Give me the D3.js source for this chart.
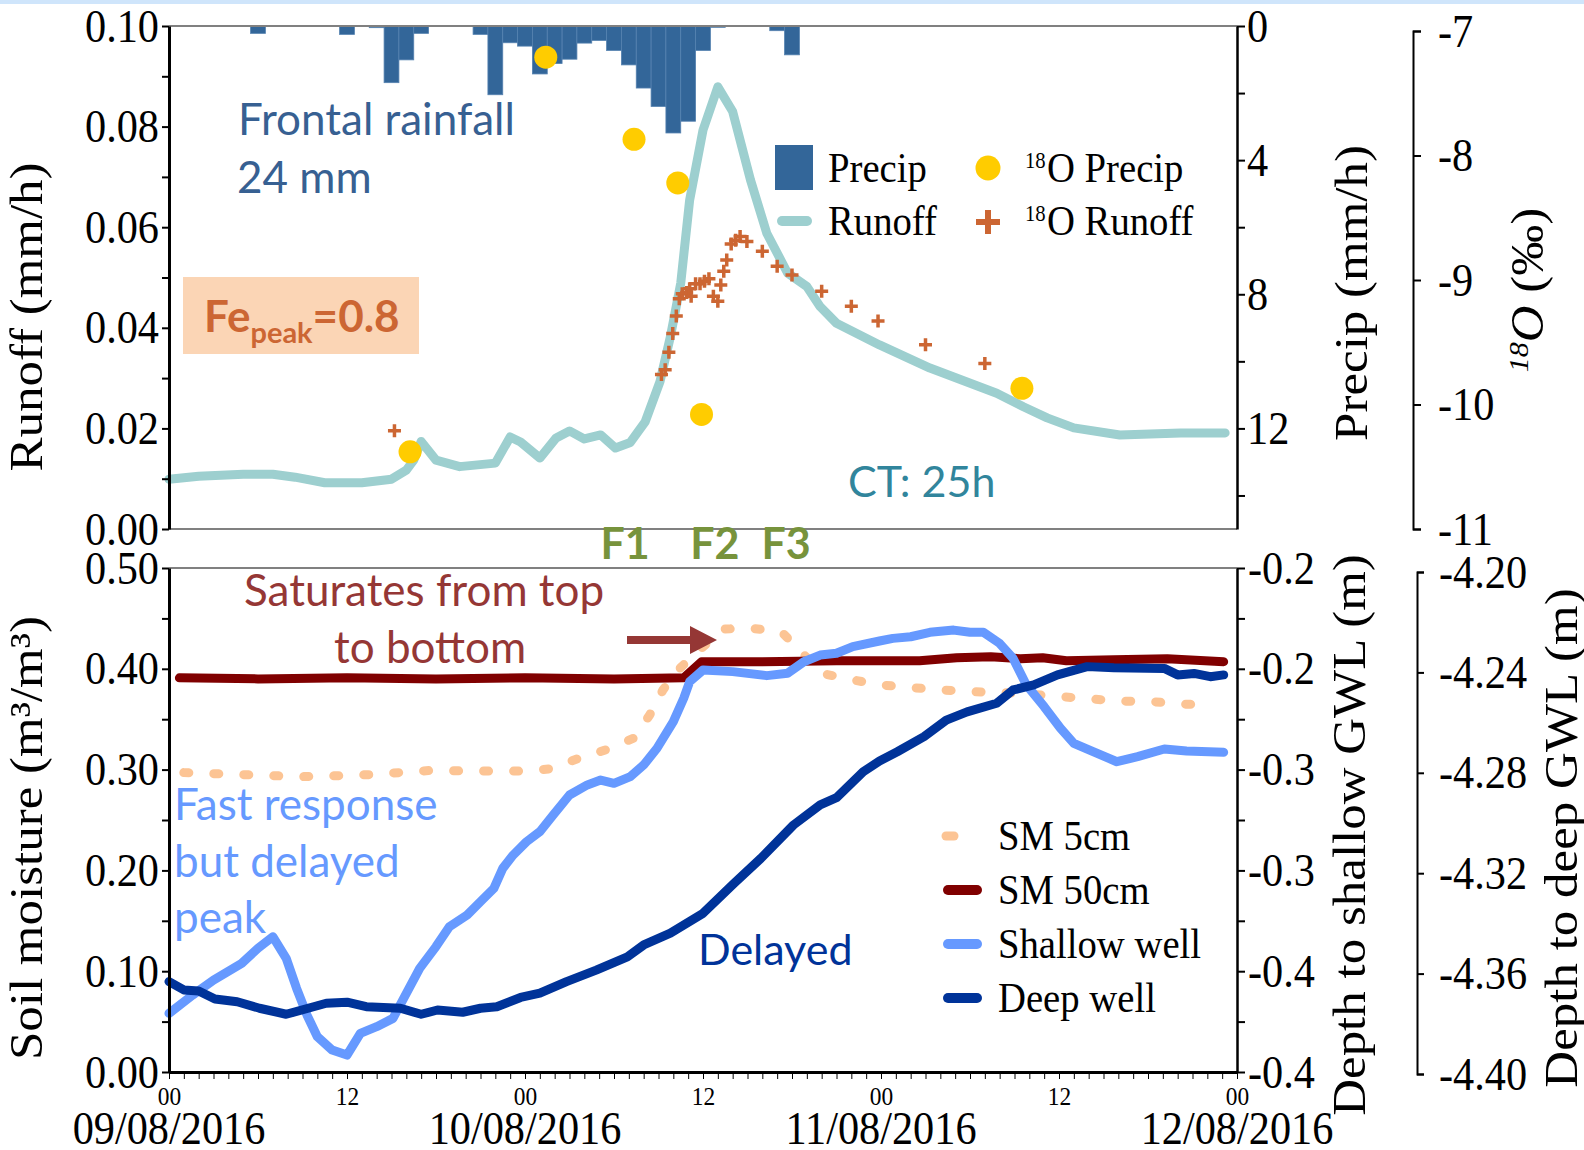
<!DOCTYPE html>
<html>
<head>
<meta charset="utf-8">
<script src="https://cdn.jsdelivr.net/npm/d3@7"></script>
<style>
  body { margin: 0; background: #fff; }
  svg { display: block; }
</style>
</head>
<body>
<div id="chart"></div>
<script>
// ---------- data (hours since 09/08/2016 00:00) ----------
const precipHours = [6, 12, 14, 15, 16, 17, 21, 22, 23, 24, 25, 26, 27, 28, 29, 30, 31, 32, 33, 34, 35, 36, 37, 41, 42];
const precipValues = [0.22, 0.25, 0.05, 1.69, 1.01, 0.22, 0.25, 2.05, 0.50, 0.60, 1.43, 1.12, 0.99, 0.51, 0.43, 0.73, 1.16, 1.85, 2.40, 3.19, 2.84, 0.73, 0.04, 0.14, 0.86];

const runoffHours = [0, 2, 5, 7, 8.5, 10.5, 13, 15, 16, 16.5, 17, 18, 19.6, 22, 23, 23.7, 25, 26.1, 27, 28, 29.1, 30.1, 31.1, 32.1, 33.1, 33.8, 34.5, 35.1, 36, 37, 38, 39.2, 40.3, 41.7, 43, 43.9, 45, 47.9, 51.3, 55.8, 57.6, 59.2, 61, 64.1, 68.2, 71.2];
const runoffValues = [0.0099, 0.0105, 0.0109, 0.0109, 0.0103, 0.0092, 0.0092, 0.0099, 0.0117, 0.0137, 0.0174, 0.0137, 0.0124, 0.0131, 0.0183, 0.0173, 0.0141, 0.0181, 0.0195, 0.0179, 0.0187, 0.0161, 0.0172, 0.0213, 0.0293, 0.0382, 0.0489, 0.0654, 0.0793, 0.0879, 0.0830, 0.0694, 0.0588, 0.0509, 0.0482, 0.0442, 0.0409, 0.0366, 0.0320, 0.0270, 0.0243, 0.0221, 0.0201, 0.0187, 0.0191, 0.0191];

const o18PrecipHours = [16.25, 25.4, 31.35, 34.3, 35.9, 57.5];
const o18PrecipValues = [-10.38, -7.21, -7.87, -8.22, -10.08, -9.87];

const o18RunoffHours = [15.2, 33.2, 33.45, 33.7, 33.96, 34.2, 34.4, 34.6, 34.9, 35.1, 35.2, 35.5, 35.8, 36.1, 36.4, 36.7, 37.0, 37.2, 37.4, 37.6, 37.9, 38.2, 38.5, 38.96, 40.0, 41.0, 42.0, 44.0, 46.0, 47.8, 51.0, 55.0];
const o18RunoffValues = [-10.21, -9.76, -9.72, -9.58, -9.43, -9.29, -9.15, -9.11, -9.10, -9.07, -9.13, -9.03, -9.03, -9.01, -8.99, -9.13, -9.17, -9.04, -8.93, -8.84, -8.71, -8.68, -8.65, -8.69, -8.77, -8.89, -8.96, -9.09, -9.21, -9.33, -9.52, -9.67];

const sm5Hours = [1, 5, 9, 11.5, 13.5, 15.5, 17.5, 21.5, 24, 25.6, 27.5, 29.4, 31.3, 32.4, 33.3, 34.2, 35.4, 36.4, 37.4, 39.4, 41.3, 42.6, 44, 46.1, 48, 50.1, 52.1, 54.1, 56, 58.1, 60.2, 62.2, 64.2, 66.3, 68.3, 70.5];
const sm5Values = [0.297, 0.295, 0.293, 0.294, 0.295, 0.297, 0.299, 0.2985, 0.2985, 0.3006, 0.3105, 0.3194, 0.331, 0.354, 0.379, 0.397, 0.414, 0.427, 0.4395, 0.440, 0.4365, 0.417, 0.3955, 0.389, 0.384, 0.3813, 0.379, 0.3773, 0.3767, 0.3747, 0.3723, 0.370, 0.368, 0.3674, 0.365, 0.364];

const sm50Hours = [0.7, 6, 12, 18, 24, 30, 34.7, 35.9, 40, 45, 50.6, 53.1, 55.4, 57.4, 58.9, 60.5, 63.7, 67.3, 71.1];
const sm50Values = [0.391, 0.390, 0.391, 0.390, 0.391, 0.390, 0.391, 0.407, 0.407, 0.408, 0.408, 0.411, 0.412, 0.410, 0.411, 0.408, 0.409, 0.410, 0.407];

const shallowHours = [0, 1.6, 3.0, 4.9, 6.0, 7.0, 7.9, 8.6, 9.3, 10.0, 11.0, 12.0, 12.9, 14.0, 15.1, 16.0, 16.9, 18.0, 18.9, 20.1, 21.0, 21.9, 22.5, 23.2, 24.1, 25.0, 25.9, 27.0, 28.2, 29.1, 30.0, 31.1, 32.0, 32.9, 34.0, 34.7, 35.1, 36.0, 38.0, 40.3, 41.7, 42.8, 43.9, 45.0, 46.1, 47.9, 48.8, 50.0, 51.3, 52.9, 54.0, 54.9, 56.0, 56.9, 57.8, 59.0, 60.1, 61.0, 62.3, 63.9, 65.3, 67.1, 68.6, 71.1];
const shallowValues = [-0.3709, -0.3618, -0.3544, -0.3461, -0.3386, -0.3329, -0.3436, -0.3585, -0.3717, -0.3825, -0.3891, -0.3916, -0.3808, -0.3775, -0.3734, -0.3610, -0.3486, -0.3378, -0.3279, -0.3221, -0.3155, -0.3089, -0.2990, -0.2924, -0.2858, -0.2808, -0.2725, -0.2626, -0.2576, -0.2552, -0.2568, -0.2535, -0.2477, -0.2394, -0.2262, -0.2146, -0.2064, -0.2006, -0.2014, -0.2034, -0.2022, -0.1965, -0.1932, -0.1923, -0.1890, -0.1862, -0.1849, -0.1841, -0.1819, -0.1808, -0.1819, -0.1819, -0.1874, -0.1948, -0.2080, -0.2188, -0.2295, -0.2370, -0.2411, -0.2461, -0.2436, -0.2398, -0.2408, -0.2414];

const deepHours = [0, 1.0, 2.0, 3.1, 4.6, 6.1, 7.9, 9.5, 10.6, 12.0, 13.3, 15.6, 17.0, 18.1, 19.8, 21.0, 22.1, 23.7, 25.0, 26.8, 28.8, 30.9, 32.0, 33.8, 36.0, 38.1, 39.9, 42.1, 43.9, 45.0, 46.8, 47.9, 49.1, 50.9, 52.4, 53.8, 55.8, 56.9, 58.3, 59.9, 61.9, 63.7, 67.1, 68.0, 69.1, 70.2, 71.1];
const deepValues = [-4.3632, -4.3665, -4.3669, -4.3701, -4.3712, -4.3738, -4.3762, -4.3736, -4.3718, -4.3714, -4.3732, -4.3738, -4.3762, -4.3745, -4.3754, -4.3738, -4.3732, -4.3695, -4.3678, -4.3632, -4.3586, -4.3533, -4.3486, -4.3439, -4.3360, -4.3240, -4.3141, -4.3008, -4.2928, -4.2899, -4.2796, -4.2753, -4.2716, -4.2656, -4.2590, -4.2557, -4.2523, -4.2470, -4.2450, -4.2410, -4.2377, -4.2381, -4.2384, -4.2410, -4.2404, -4.2417, -4.2410];

// ticks and labels
const runoffTicks = [0, 0.01, 0.02, 0.03, 0.04, 0.05, 0.06, 0.07, 0.08, 0.09, 0.10];
const precipTicks = [0, 2, 4, 6, 8, 10, 12, 14];
const o18Ticks = [-11, -10, -9, -8, -7];
const smTicks = [0, 0.05, 0.10, 0.15, 0.20, 0.25, 0.30, 0.35, 0.40, 0.45, 0.50];
const shallowTicks = [-0.40, -0.375, -0.35, -0.325, -0.30, -0.275, -0.25, -0.225, -0.20, -0.175, -0.15];
const shallowTickLabels = ["-0.4", "-0.4", "-0.3", "-0.3", "-0.2", "-0.2"];
const deepTicks = [-4.40, -4.36, -4.32, -4.28, -4.24, -4.20];
const hourLabels = ["00", "12", "00", "12", "00", "12", "00"];
const dateLabels = ["09/08/2016", "10/08/2016", "11/08/2016", "12/08/2016"];

// ---------- layout ----------
const W = 1584, H = 1150;
const X0 = 169, X1 = 1237;
const topY0 = 26, topY1 = 529;
const botY0 = 568, botY1 = 1072;
const SX = 0.9; // chart text in the figure is squeezed horizontally
const SERIF = "'Liberation Serif', 'Times New Roman', serif";
const SANS = "Lato, Carlito, Calibri, sans-serif";

const x = d3.scaleLinear().domain([0, 72]).range([X0, X1]);
const yRun = d3.scaleLinear().domain([0, 0.1]).range([topY1, topY0]);
const yPrecip = d3.scaleLinear().domain([0, 15]).range([topY0, topY1]);
const yO18 = d3.scaleLinear().domain([-11, -7]).range([529, 31]);
const ySM = d3.scaleLinear().domain([0, 0.5]).range([botY1, botY0]);
const yShallow = d3.scaleLinear().domain([-0.40, -0.15]).range([botY1, botY0]);
const yDeep = d3.scaleLinear().domain([-4.40, -4.20]).range([1074, 572]);

const hyphen = f => d => f(d).replace("\u2212", "-");

const svg = d3.select("#chart").append("svg")
  .attr("width", W).attr("height", H)
  .attr("viewBox", [0, 0, W, H]);

svg.append("rect").attr("width", W).attr("height", H).attr("fill", "#fff");
svg.append("rect").attr("width", W).attr("height", 4).attr("fill", "#cfe5fb");

// squeezed serif text helper
function sText(g, px, py, str, size, anchor) {
  return g.append("text")
    .attr("transform", `translate(${px},${py}) scale(${SX},1)`)
    .attr("font-family", SERIF).attr("font-size", size)
    .attr("text-anchor", anchor || "start").attr("fill", "#000")
    .text(str);
}
function vTitle(g, px, py, size) {
  return g.append("text")
    .attr("transform", `translate(${px},${py}) scale(${SX},1) rotate(-90)`)
    .attr("font-family", SERIF).attr("font-size", size)
    .attr("text-anchor", "middle").attr("fill", "#000");
}
function styleAxis(g, domainWidth, fontSize) {
  g.attr("font-size", null).attr("font-family", null);
  g.select(".domain").attr("stroke", "#000").attr("stroke-width", domainWidth);
  g.selectAll(".tick line").attr("stroke", "#000").attr("stroke-width", 2);
  g.selectAll(".tick text")
    .attr("fill", "#000").attr("font-size", fontSize).attr("font-family", SERIF)
    .each(function () {
      const t = d3.select(this);
      const tx = +t.attr("x") || 0, ty = +t.attr("y") || 0;
      t.attr("x", null).attr("y", null)
        .attr("transform", `translate(${tx},${ty}) scale(${SX},1)`);
    });
}

// ================= TOP PANEL =================
const topG = svg.append("g");

// precipitation bars hanging from the top
topG.append("g").selectAll("rect")
  .data(precipHours.map((h, i) => ({ h, v: precipValues[i] })))
  .join("rect")
  .attr("x", d => x(d.h - 0.5))
  .attr("width", d => x(d.h + 0.5) - x(d.h - 0.5))
  .attr("y", yPrecip(0))
  .attr("height", d => yPrecip(d.v) - yPrecip(0))
  .attr("fill", "#336699")
  .attr("stroke", "#5582b0").attr("stroke-width", 0.8);

// runoff
const runoffLine = d3.line().x(d => x(d[0])).y(d => yRun(d[1]));
topG.append("path")
  .datum(d3.zip(runoffHours, runoffValues))
  .attr("d", runoffLine)
  .attr("fill", "none").attr("stroke", "#9dcfcf").attr("stroke-width", 9)
  .attr("stroke-linejoin", "round").attr("stroke-linecap", "round");

// 18O runoff (+)
topG.append("g").selectAll("path")
  .data(d3.zip(o18RunoffHours, o18RunoffValues))
  .join("path")
  .attr("transform", d => `translate(${x(d[0])},${yO18(d[1])})`)
  .attr("d", "M-6.5,0H6.5M0,-6.5V6.5")
  .attr("stroke", "#cc6633").attr("stroke-width", 3.5);

// 18O precip dots
topG.append("g").selectAll("circle")
  .data(d3.zip(o18PrecipHours, o18PrecipValues))
  .join("circle")
  .attr("cx", d => x(d[0])).attr("cy", d => yO18(d[1]))
  .attr("r", 11.5).attr("fill", "#ffcc00");

// frame lines
topG.append("line").attr("x1", X0).attr("x2", X1).attr("y1", topY0).attr("y2", topY0)
  .attr("stroke", "#808080").attr("stroke-width", 2);
topG.append("line").attr("x1", X0).attr("x2", X1).attr("y1", topY1).attr("y2", topY1)
  .attr("stroke", "#808080").attr("stroke-width", 2);

// axes
const axRun = topG.append("g").attr("transform", `translate(${X0},0)`)
  .call(d3.axisLeft(yRun).tickValues(runoffTicks).tickSize(7).tickSizeOuter(0).tickPadding(3)
    .tickFormat((d, i) => i % 2 ? "" : d3.format(".2f")(d)));
styleAxis(axRun, 3, 47);

const axPrecip = topG.append("g").attr("transform", `translate(${X1},0)`)
  .call(d3.axisRight(yPrecip).tickValues(precipTicks).tickSize(8).tickSizeOuter(0).tickPadding(2)
    .tickFormat(d => d % 4 === 0 ? d : ""));
styleAxis(axPrecip, 2.5, 47);

const axO18 = topG.append("g").attr("transform", "translate(1413,0)")
  .call(d3.axisRight(yO18).tickValues(o18Ticks).tickSize(8).tickSizeOuter(8).tickPadding(17)
    .tickFormat(hyphen(d3.format("d"))));
styleAxis(axO18, 2, 47);

vTitle(topG, 42, 317, 51).text("Runoff (mm/h)");
vTitle(topG, 1367, 293, 51).text("Precip (mm/h)");
const o18Title = vTitle(topG, 1543, 290, 51);
o18Title.append("tspan").attr("font-style", "italic").attr("font-size", 30).attr("dy", -17).text("18");
o18Title.append("tspan").attr("font-style", "italic").attr("dy", 17).text("O");
o18Title.append("tspan").text(" (‰)");

// legend (top)
const lg1 = topG.append("g");
lg1.append("rect").attr("x", 775).attr("y", 145).attr("width", 38).attr("height", 45).attr("fill", "#336699");
sText(lg1, 828, 182, "Precip", 43);
lg1.append("line").attr("x1", 782).attr("x2", 807).attr("y1", 221).attr("y2", 221)
  .attr("stroke", "#9dcfcf").attr("stroke-width", 10).attr("stroke-linecap", "round");
sText(lg1, 828, 235, "Runoff", 43);
lg1.append("circle").attr("cx", 988).attr("cy", 168).attr("r", 12.5).attr("fill", "#ffcc00");
sText(lg1, 1025, 168, "18", 23);
sText(lg1, 1047, 182, "O Precip", 43);
lg1.append("path").attr("transform", "translate(988,222)")
  .attr("d", "M-12,0H12M0,-12V12").attr("stroke", "#cc6633").attr("stroke-width", 6);
sText(lg1, 1025, 221, "18", 23);
sText(lg1, 1047, 235, "O Runoff", 43);

// annotations (top)
const note = (g, px, py, str, col, size) => g.append("text").attr("x", px).attr("y", py)
  .attr("font-family", SANS).attr("font-size", size || 44).attr("fill", col).text(str);
note(topG, 238, 135, "Frontal rainfall", "#376092");
note(topG, 237, 193, "24 mm", "#376092");
topG.append("rect").attr("x", 183).attr("y", 277).attr("width", 236).attr("height", 77).attr("fill", "#fbd5b5");
const fe = topG.append("text").attr("x", 204).attr("y", 332).attr("font-family", SANS)
  .attr("font-weight", "bold").attr("font-size", 44).attr("fill", "#cc6633");
fe.append("tspan").text("Fe");
fe.append("tspan").attr("font-size", 29).attr("dy", 11).text("peak");
fe.append("tspan").attr("dy", -11).text("=0.8");
note(topG, 848, 497, "CT: 25h", "#31859c", 43);

const fLabels = [["F1", 30.75], ["F2", 36.8], ["F3", 41.6]];
topG.append("g").selectAll("text").data(fLabels).join("text")
  .attr("x", d => x(d[1])).attr("y", 559).attr("text-anchor", "middle")
  .attr("font-family", SANS).attr("font-weight", "bold").attr("font-size", 43)
  .attr("fill", "#77933c").text(d => d[0]);

// ================= BOTTOM PANEL =================
const botG = svg.append("g");

const smLine = d3.line().x(d => x(d[0])).y(d => ySM(d[1]));
botG.append("path").datum(d3.zip(sm5Hours, sm5Values)).attr("d", smLine)
  .attr("fill", "none").attr("stroke", "#fcc494").attr("stroke-width", 9)
  .attr("stroke-linecap", "round").attr("stroke-dasharray", "5 25");
botG.append("path").datum(d3.zip(sm50Hours, sm50Values)).attr("d", smLine)
  .attr("fill", "none").attr("stroke", "#800000").attr("stroke-width", 9)
  .attr("stroke-linecap", "round").attr("stroke-linejoin", "round");
botG.append("path").datum(d3.zip(shallowHours, shallowValues))
  .attr("d", d3.line().x(d => x(d[0])).y(d => yShallow(d[1])))
  .attr("fill", "none").attr("stroke", "#6699ff").attr("stroke-width", 9)
  .attr("stroke-linecap", "round").attr("stroke-linejoin", "round");
botG.append("path").datum(d3.zip(deepHours, deepValues))
  .attr("d", d3.line().x(d => x(d[0])).y(d => yDeep(d[1])))
  .attr("fill", "none").attr("stroke", "#003399").attr("stroke-width", 9)
  .attr("stroke-linecap", "round").attr("stroke-linejoin", "round");

botG.append("line").attr("x1", X0).attr("x2", X1).attr("y1", botY0).attr("y2", botY0)
  .attr("stroke", "#808080").attr("stroke-width", 2);

const axSM = botG.append("g").attr("transform", `translate(${X0},0)`)
  .call(d3.axisLeft(ySM).tickValues(smTicks).tickSize(7).tickSizeOuter(0).tickPadding(3)
    .tickFormat((d, i) => i % 2 ? "" : d3.format(".2f")(d)));
styleAxis(axSM, 3, 47);

const axShallow = botG.append("g").attr("transform", `translate(${X1},0)`)
  .call(d3.axisRight(yShallow).tickValues(shallowTicks).tickSize(8).tickSizeOuter(0).tickPadding(3)
    .tickFormat((d, i) => i % 2 ? "" : shallowTickLabels[i / 2]));
styleAxis(axShallow, 2.5, 47);

const axDeep = botG.append("g").attr("transform", "translate(1417,0)")
  .call(d3.axisRight(yDeep).tickValues(deepTicks).tickSize(7).tickSizeOuter(7).tickPadding(15)
    .tickFormat(hyphen(d3.format(".2f"))));
styleAxis(axDeep, 2, 47);

const axX = botG.append("g").attr("transform", `translate(0,${botY1})`)
  .call(d3.axisBottom(x).tickValues(d3.range(0, 73)).tickSize(7).tickSizeOuter(0).tickPadding(8)
    .tickFormat(d => d % 12 === 0 ? hourLabels[d / 12] : ""));
styleAxis(axX, 3, 26);
axX.selectAll(".tick line").attr("stroke-width", 1);

dateLabels.forEach((s, i) => sText(botG, x(i * 24), 1144, s, 47, "middle"));

vTitle(botG, 42, 838, 51).text("Soil moisture (m³/m³)");
vTitle(botG, 1365, 835, 51).text("Depth to shallow GWL (m)");
vTitle(botG, 1577, 838, 51).text("Depth to deep GWL (m)");

// legend (bottom)
const lg2 = botG.append("g");
lg2.append("line").attr("x1", 946).attr("x2", 954).attr("y1", 836).attr("y2", 836)
  .attr("stroke", "#fcc494").attr("stroke-width", 9).attr("stroke-linecap", "round");
sText(lg2, 998, 850, "SM 5cm", 43);
[["SM 50cm", "#800000", 890], ["Shallow well", "#6699ff", 944], ["Deep well", "#003399", 998]]
  .forEach(([label, col, ly]) => {
    lg2.append("line").attr("x1", 948).attr("x2", 977).attr("y1", ly).attr("y2", ly)
      .attr("stroke", col).attr("stroke-width", 10).attr("stroke-linecap", "round");
    sText(lg2, 998, ly + 14, label, 43);
  });

// annotations (bottom)
note(botG, 244, 606, "Saturates from top", "#953735");
note(botG, 334, 663, "to bottom", "#953735");
note(botG, 174, 820, "Fast response", "#6699ff");
note(botG, 174, 877, "but delayed", "#6699ff");
note(botG, 174, 933, "peak", "#6699ff");
note(botG, 698, 965, "Delayed", "#003399", 43);
botG.append("path")
  .attr("d", "M627,636H690V626L717,640L690,654V644H627Z")
  .attr("fill", "#953735");
</script>
</body>
</html>
